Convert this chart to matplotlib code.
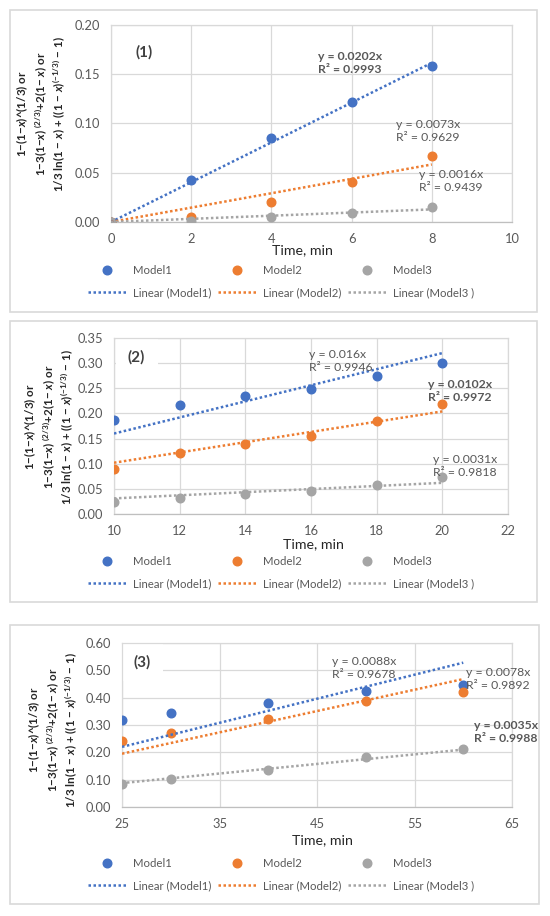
import matplotlib
matplotlib.use("Agg")
import matplotlib.pyplot as plt
from matplotlib.patches import Rectangle

plt.rcParams['font.family'] = ['Lato', 'DejaVu Sans']
plt.rcParams['mathtext.fontset'] = 'custom'
plt.rcParams['mathtext.rm'] = 'Lato:bold'
plt.rcParams['mathtext.it'] = 'Lato:italic:bold'
plt.rcParams['mathtext.bf'] = 'Lato:bold'

# ---- data ----
series_names = ['Model1', 'Model2', 'Model3']
trend_names = ['Linear (Model1)', 'Linear (Model2)', 'Linear (Model3 )']

time1 = [0, 2, 4, 6, 8]
p1_model1 = [0.0, 0.043, 0.085, 0.122, 0.158]
p1_model2 = [0.0, 0.005, 0.020, 0.041, 0.067]
p1_model3 = [0.0, 0.001, 0.005, 0.009, 0.015]
p1_slopes = [0.0202, 0.0073, 0.0016]
p1_r2 = [0.9993, 0.9629, 0.9439]

time2 = [10, 12, 14, 16, 18, 20]
p2_model1 = [0.186, 0.217, 0.235, 0.249, 0.275, 0.301]
p2_model2 = [0.090, 0.121, 0.140, 0.155, 0.185, 0.218]
p2_model3 = [0.023, 0.032, 0.039, 0.045, 0.057, 0.073]
p2_slopes = [0.016, 0.0102, 0.0031]
p2_r2 = [0.9946, 0.9972, 0.9818]

time3 = [25, 30, 40, 50, 60]
p3_model1 = [0.320, 0.345, 0.380, 0.425, 0.445]
p3_model2 = [0.240, 0.272, 0.322, 0.387, 0.420]
p3_model3 = [0.085, 0.102, 0.135, 0.183, 0.213]
p3_slopes = [0.0088, 0.0078, 0.0035]
p3_r2 = [0.9678, 0.9892, 0.9988]

colors = ['#4472C4', '#ED7D31', '#A5A5A5']
TXT = '#595959'
GRID = '#d9d9d9'

W, H = 550, 916
fig = plt.figure(figsize=(W / 100, H / 100), dpi=100)


def fx(x):
    return x / W


def fy(y):
    return 1 - y / H


ylabel_text = ("1\u2212(1\u2212$x$)^(1/3) or\n"
               "1\u22123(1\u2212$x$) $^{(2/3)}$+2(1\u2212 $x$) or\n"
               "1/3 ln(1 \u2212 $x$) + ((1 \u2212 $x$)$^{(\u2212 1/3)}$ \u2212 1)")


def draw_panel(box, area, x, models, slopes, r2, bold_idx, xlim, xticks, ylim, yticks,
               tag, tag_pos, eq_pos, ylab_pos, xlab_pos, leg_rows):
    # panel frame
    fig.patches.append(Rectangle((fx(box[0]), fy(box[3])), (box[2] - box[0]) / W,
                                 (box[3] - box[1]) / H, transform=fig.transFigure,
                                 facecolor='none', edgecolor=GRID, lw=1.2, zorder=-1))
    l, t, r, b = area
    ax = fig.add_axes([fx(l), fy(b), (r - l) / W, (b - t) / H])
    ax.set_facecolor('none')
    ax.set_axisbelow(True)
    ax.grid(True, color=GRID, lw=0.9)
    for s in ax.spines.values():
        s.set_color(GRID)
        s.set_linewidth(0.9)
    ax.spines['bottom'].set_color('#bfbfbf')

    handles_m, handles_l = [], []
    for i in range(3):
        hm, = ax.plot(x, models[i], 'o', color=colors[i], ms=6.2, zorder=3,
                      label=series_names[i])
        tx = [x[0], x[-1]]
        hl, = ax.plot(tx, [slopes[i] * v for v in tx], color=colors[i], lw=1.8,
                      ls=(0, (1, 1)), zorder=4, label=trend_names[i])
        handles_m.append(hm)
        handles_l.append(hl)

    ax.set_xlim(*xlim)
    ax.set_ylim(*ylim)
    ax.set_xticks(xticks)
    ax.set_yticks(yticks)
    ax.set_yticklabels(['%.2f' % v for v in yticks])
    ax.tick_params(length=0, labelsize=9.3, colors=TXT, pad=8)

    ax.text(fx(tag_pos[0]), fy(tag_pos[1]), tag, transform=fig.transFigure,
            ha='left', va='center', fontsize=11, fontweight='bold', color='#404040',
            zorder=1.5, bbox=dict(boxstyle='square,pad=0.8', fc='white', ec='none'))

    for i in range(3):
        s = ('%g' % slopes[i])
        fig.text(fx(eq_pos[i][0]), fy(eq_pos[i][1]),
                 'y = %sx\nR\u00b2 = %.4f' % (s, r2[i]),
                 ha='left', va='center', fontsize=8.8, color=TXT, linespacing=1.3,
                 fontweight='bold' if i == bold_idx else 'normal', zorder=5)

    fig.text(fx(ylab_pos[0]), fy(ylab_pos[1]), ylabel_text, rotation=90,
             ha='center', va='center', multialignment='center', fontsize=8.4,
             fontweight='bold', color='#262626', linespacing=1.12)
    fig.text(fx(xlab_pos[0]), fy(xlab_pos[1]), 'Time, min', ha='center',
             va='center', fontsize=10.2, color='#262626')

    order = [handles_m[0], handles_l[0], handles_m[1], handles_l[1],
             handles_m[2], handles_l[2]]
    fig.legend(handles=order, labels=[h.get_label() for h in order], ncol=3,
               loc='center left', bbox_to_anchor=(fx(88), fy((leg_rows[0] + leg_rows[1]) / 2)),
               bbox_transform=fig.transFigure, frameon=False, fontsize=8.2,
               labelcolor=TXT, handlelength=3.3, handletextpad=0.65,
               columnspacing=0.6, labelspacing=1.05, borderpad=0, borderaxespad=0)
    return ax


draw_panel(box=(10, 10, 537, 312), area=(111, 25, 512, 222), x=time1,
           models=[p1_model1, p1_model2, p1_model3], slopes=p1_slopes, r2=p1_r2,
           bold_idx=0, xlim=(0, 10), xticks=[0, 2, 4, 6, 8, 10], ylim=(0, 0.20),
           yticks=[0, 0.05, 0.10, 0.15, 0.20], tag='(1)', tag_pos=(135, 52),
           eq_pos=[(318, 63), (396, 131), (419, 181)], ylab_pos=(41, 114),
           xlab_pos=(302, 250), leg_rows=(270, 293))

draw_panel(box=(10, 321, 537, 602), area=(114, 338, 508, 514), x=time2,
           models=[p2_model1, p2_model2, p2_model3], slopes=p2_slopes, r2=p2_r2,
           bold_idx=1, xlim=(10, 22), xticks=[10, 12, 14, 16, 18, 20, 22], ylim=(0, 0.35),
           yticks=[0, 0.05, 0.10, 0.15, 0.20, 0.25, 0.30, 0.35], tag='(2)', tag_pos=(128, 357),
           eq_pos=[(309, 361), (428, 391), (433, 466)], ylab_pos=(49, 427),
           xlab_pos=(313, 544), leg_rows=(561, 584))

draw_panel(box=(10, 625, 539, 904), area=(122, 643, 512, 807), x=time3,
           models=[p3_model1, p3_model2, p3_model3], slopes=p3_slopes, r2=p3_r2,
           bold_idx=2, xlim=(25, 65), xticks=[25, 35, 45, 55, 65], ylim=(0, 0.60),
           yticks=[0, 0.10, 0.20, 0.30, 0.40, 0.50, 0.60], tag='(3)', tag_pos=(134, 662),
           eq_pos=[(332, 668), (466, 679), (474, 732)], ylab_pos=(53, 730),
           xlab_pos=(322, 840), leg_rows=(863, 886))

fig.savefig('out.png', dpi=100)
